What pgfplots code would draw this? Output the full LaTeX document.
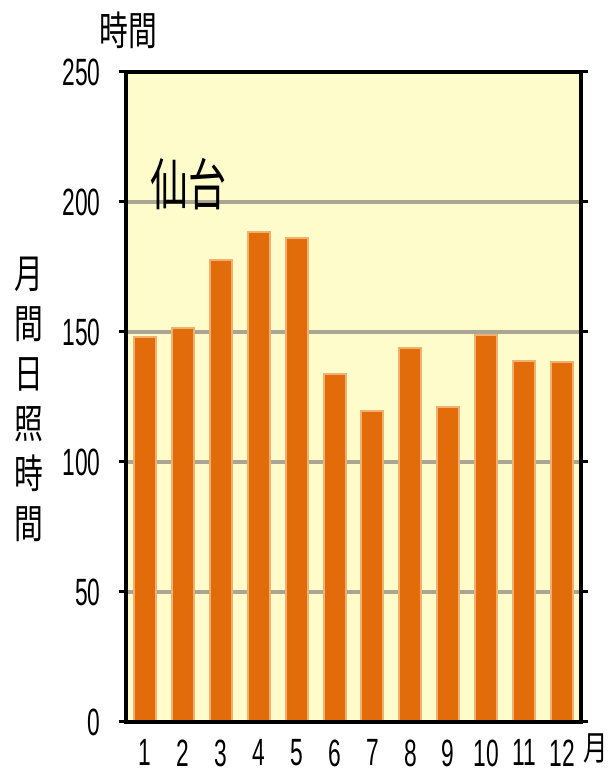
\documentclass[border=0pt]{standalone}
\usepackage{fontspec}
\usepackage{pgfplots}
\pgfplotsset{compat=1.18}
\setmainfont{Liberation Sans}[FakeStretch=0.6]
\newfontfamily\cjk{Noto Sans CJK JP}[FakeStretch=0.72]
\newfontfamily\cjkb{Noto Sans CJK JP}[FakeStretch=0.68]
\definecolor{bg}{HTML}{FFFCCB}
\definecolor{barfill}{HTML}{E36C0A}
\definecolor{baredge}{HTML}{F0B070}
\definecolor{gridc}{HTML}{ABA594}
\begin{document}
\begin{tikzpicture}[x=1pt,y=1pt]
\path[use as bounding box] (0,0) rectangle (610,774);
\begin{axis}[at={(126pt,52pt)}, anchor=south west, scale only axis,
 width=455pt, height=650pt,
 xmin=0.5, xmax=12.5, ymin=0, ymax=250,
 ybar, bar width=22pt,
 xtick={1,...,12}, ytick={0,50,...,250},
 xtick style={draw=none},
 ytick style={black, line width=3pt},
 tick align=outside, major tick length=7pt,
 ymajorgrids, grid style={gridc, line width=3.5pt},
 axis line style={line width=4pt},
 axis background/.style={fill=bg},
 tick label style={font=\fontsize{38}{38}\selectfont},
 /pgf/number format/assume math mode=true,
 yticklabel style={xshift=-15pt},
 xticklabel style={yshift=-7pt},
 clip=false]
\addplot[fill=barfill, draw=baredge, line width=2pt] coordinates {
(1,148) (2,151.5) (3,177.5) (4,188.5) (5,186) (6,134) (7,119.5) (8,144) (9,121) (10,149) (11,139) (12,138.5)};
\draw[line width=4pt] (rel axis cs:0,0) rectangle (rel axis cs:1,1);
\node[font=\cjkb\fontsize{56}{56}\selectfont] at (axis cs:2.16,207) {仙台};
\end{axis}
\node[font=\cjk\fontsize{40}{40}\selectfont] at (128,744) {時間};
\node[font=\cjk\fontsize{40}{50}\selectfont, align=center] at (29,375) {月\\間\\日\\照\\時\\間};
\node[font=\cjk\fontsize{34}{34}\selectfont, inner sep=0pt] at (596,26) {月};
\end{tikzpicture}
\end{document}
